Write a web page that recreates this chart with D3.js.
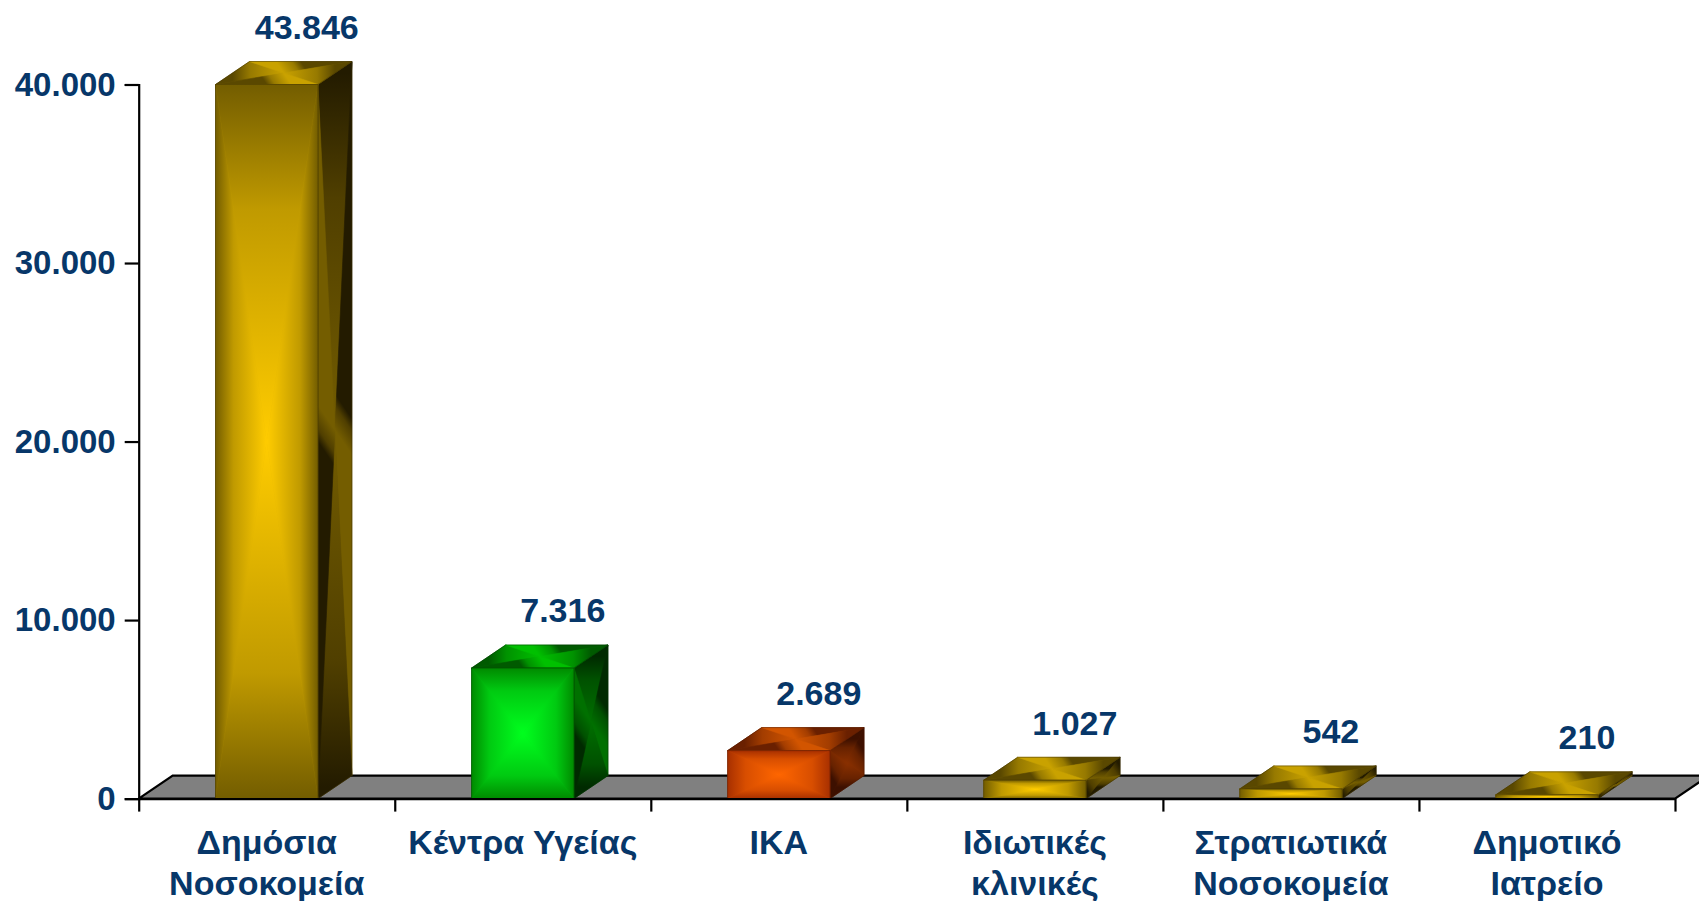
<!DOCTYPE html>
<html>
<head>
<meta charset="utf-8">
<script src="https://cdn.jsdelivr.net/npm/d3@7"></script>
<style>
  html, body { margin: 0; padding: 0; background: #ffffff; }
  svg { display: block; }
  text { font-family: "Liberation Sans", Arial, sans-serif; font-weight: bold; fill: #073769; }
</style>
</head>
<body>
<svg id="chart" width="1699" height="901"></svg>
<script>
// ---- data ----
const categories = [
  ["Δημόσια", "Νοσοκομεία"],
  ["Κέντρα Υγείας"],
  ["ΙΚΑ"],
  ["Ιδιωτικές", "κλινικές"],
  ["Στρατιωτικά", "Νοσοκομεία"],
  ["Δημοτικό", "Ιατρείο"]
];
const values = [43846, 7316, 2689, 1027, 542, 210];
const yTicks = [0, 10000, 20000, 30000, 40000];
const colorKeys = ["gold", "green", "orange", "gold", "gold", "gold"];

// face palettes: [edge, center]
const palettes = {
  gold:   { front: ["#735d00", "#ffcc00"], side: ["#231b00", "#745d00"], top: ["#5a4800", "#c9a200"], stroke: "#3a2e00" },
  green:  { front: ["#008a00", "#00ff1e"], side: ["#002a00", "#007000"], top: ["#005a00", "#00c000"], stroke: "#003300" },
  orange: { front: ["#a83000", "#ff6600"], side: ["#3d1000", "#8a3000"], top: ["#6a2000", "#d25500"], stroke: "#4a1500" }
};

// ---- layout ----
const x0 = 138.7, x1 = 1675;
const yBase = 798.6, yTop = 84.5;
const dx = 34, dy = -23;

const svg = d3.select("#chart");
const defs = svg.append("defs");

const x = d3.scaleBand()
  .domain(d3.range(values.length))
  .range([x0, x1])
  .paddingInner(0.6)
  .paddingOuter(0.3);

const xTickScale = d3.scaleLinear().domain([0, values.length]).range([x0, x1]);

const y = d3.scaleLinear().domain([0, 40000]).range([yBase, yTop]).clamp(true);

const loc = d3.formatLocale({ decimal: ",", thousands: ".", grouping: [3], currency: ["", "€"] });
const fmt = loc.format(",d");

// ---- floor ----
svg.append("path")
  .attr("d", `M${x0},${yBase} L${x0 + dx},${yBase + dy} L${x1 + dx},${yBase + dy} L${x1},${yBase} Z`)
  .attr("fill", "#808080")
  .attr("stroke", "#000")
  .attr("stroke-width", 2.2)
  .attr("stroke-linejoin", "miter");

// ---- helper: rectangular "from-center" gradient on a quad ----
let gid = 0;
function quadFace(g, pts, cols, stroke) {
  const cx = d3.mean(pts, p => p[0]);
  const cy = d3.mean(pts, p => p[1]);
  g.append("path")
    .attr("d", "M" + pts.map(p => p.join(",")).join("L") + "Z")
    .attr("fill", d3.interpolateRgb(cols[0], cols[1])(0.6));
  for (let i = 0; i < 4; i++) {
    const a = pts[i], b = pts[(i + 1) % 4];
    const mx = (a[0] + b[0]) / 2, my = (a[1] + b[1]) / 2;
    const id = "g" + (gid++);
    const lg = defs.append("linearGradient")
      .attr("id", id)
      .attr("gradientUnits", "userSpaceOnUse")
      .attr("x1", mx).attr("y1", my).attr("x2", cx).attr("y2", cy);
    lg.append("stop").attr("offset", 0).attr("stop-color", cols[0]);
    lg.append("stop").attr("offset", 0.35).attr("stop-color", d3.interpolateRgb(cols[0], cols[1])(0.55));
    lg.append("stop").attr("offset", 1).attr("stop-color", cols[1]);
    g.append("path")
      .attr("d", `M${a[0]},${a[1]}L${b[0]},${b[1]}L${cx},${cy}Z`)
      .attr("fill", `url(#${id})`)
      .attr("stroke", `url(#${id})`)
      .attr("stroke-width", 0.6);
  }
  g.append("path")
    .attr("d", "M" + pts.map(p => p.join(",")).join("L") + "Z")
    .attr("fill", "none")
    .attr("stroke", stroke)
    .attr("stroke-opacity", 0.6)
    .attr("stroke-width", 0.8);
}

// ---- bars ----
values.forEach((v, i) => {
  const pal = palettes[colorKeys[i]];
  const bx = x(i), bw = x.bandwidth();
  const ty = y(v), by = yBase;
  const g = svg.append("g").attr("class", "bar");
  quadFace(g, [[bx + bw, ty], [bx + bw + dx, ty + dy], [bx + bw + dx, by + dy], [bx + bw, by]], pal.side, pal.stroke);
  quadFace(g, [[bx, ty], [bx + dx, ty + dy], [bx + bw + dx, ty + dy], [bx + bw, ty]], pal.top, pal.stroke);
  quadFace(g, [[bx, ty], [bx + bw, ty], [bx + bw, by], [bx, by]], pal.front, pal.stroke);
});

// ---- value labels ----
svg.selectAll("text.val")
  .data(values)
  .enter().append("text")
  .attr("class", "val")
  .attr("x", (d, i) => x(i) + x.bandwidth() / 2 + 40)
  .attr("y", d => y(d) + dy - 35)
  .attr("dy", "0.36em")
  .attr("text-anchor", "middle")
  .style("font-size", "34px")
  .text(d => fmt(d));

// ---- y axis ----
const yAxis = d3.axisLeft(y)
  .tickValues(yTicks)
  .tickSize(14)
  .tickPadding(9)
  .tickFormat(d => fmt(d));
const ya = svg.append("g")
  .attr("transform", `translate(${x0},0)`)
  .call(yAxis);
ya.select(".domain").attr("stroke", "#000").attr("stroke-width", 2.2);
ya.selectAll(".tick line").attr("stroke", "#000").attr("stroke-width", 2.2);
ya.selectAll(".tick text")
  .attr("fill", "#073769")
  .style("font-size", "33px")
  .style("font-family", '"Liberation Sans", Arial, sans-serif')
  .style("font-weight", "bold");

// ---- x axis ticks ----
const xAxis = d3.axisBottom(xTickScale)
  .tickValues(d3.range(values.length + 1))
  .tickSize(13)
  .tickSizeOuter(0)
  .tickFormat("");
const xa = svg.append("g")
  .attr("transform", `translate(0,${yBase})`)
  .call(xAxis);
xa.select(".domain").attr("stroke", "#000").attr("stroke-width", 2.2);
xa.selectAll(".tick line").attr("stroke", "#000").attr("stroke-width", 2.2);

// ---- category labels ----
const cl = svg.selectAll("text.cat")
  .data(categories)
  .enter().append("text")
  .attr("class", "cat")
  .attr("text-anchor", "middle")
  .style("font-size", "34px");
cl.each(function(lines, i) {
  const t = d3.select(this);
  lines.forEach((ln, j) => {
    t.append("tspan")
      .attr("x", x(i) + x.bandwidth() / 2)
      .attr("y", 854 + j * 41)
      .text(ln);
  });
});
</script>
</body>
</html>
